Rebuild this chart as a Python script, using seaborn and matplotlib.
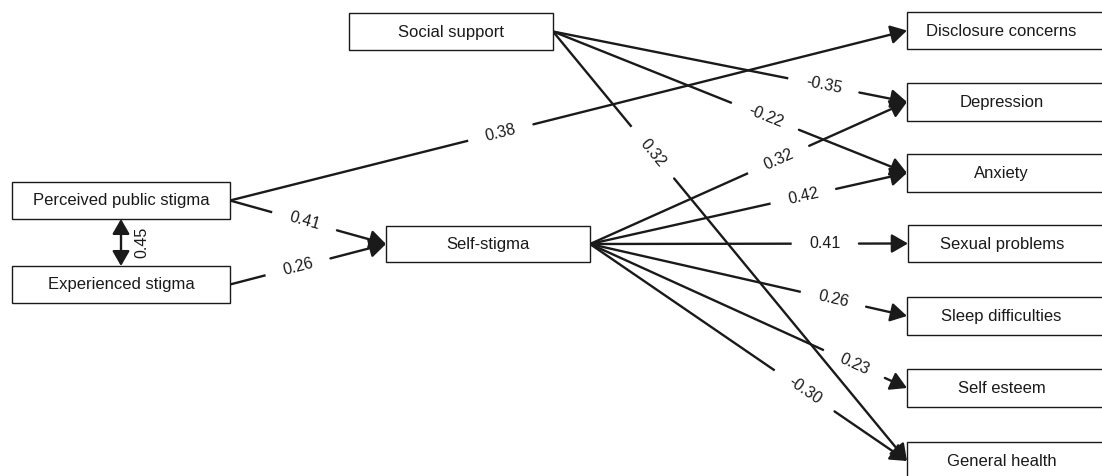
import math
import numpy as np
import pandas as pd
import matplotlib
matplotlib.use("Agg")
import matplotlib.pyplot as plt
from matplotlib.patches import Rectangle, FancyArrowPatch
import seaborn as sns

# ---- data ----
node_names = ["Social support", "Perceived public stigma", "Experienced stigma", "Self-stigma",
              "Disclosure concerns", "Depression", "Anxiety", "Sexual problems",
              "Sleep difficulties", "Self esteem", "General health"]
edge_from = ["Social support", "Social support", "Social support",
             "Perceived public stigma", "Perceived public stigma", "Experienced stigma",
             "Self-stigma", "Self-stigma", "Self-stigma", "Self-stigma", "Self-stigma", "Self-stigma"]
edge_to = ["Depression", "Anxiety", "General health",
           "Disclosure concerns", "Self-stigma", "Self-stigma",
           "Depression", "Anxiety", "Sexual problems", "Sleep difficulties", "Self esteem", "General health"]
edge_coef = ["-0.35", "-0.22", "0.32", "0.38", "0.41", "0.26",
             "0.32", "0.42", "0.41", "0.26", "0.23", "-0.30"]
corr_pair = ["Perceived public stigma", "Experienced stigma"]
corr_coef = "0.45"

# ---- layout (pixel coordinates: left, top, right, bottom) ----
layout = {
    "Social support": (349, 13, 553, 50),
    "Perceived public stigma": (12, 182, 230, 219),
    "Experienced stigma": (12, 266, 230, 303),
    "Self-stigma": (386, 226, 590, 262),
    "Disclosure concerns": (907, 12, 1106, 49),
    "Depression": (907, 83, 1106, 121),
    "Anxiety": (907, 154, 1106, 192),
    "Sexual problems": (908, 225, 1106, 262),
    "Sleep difficulties": (907, 297, 1106, 335),
    "Self esteem": (907, 369, 1106, 407),
    "General health": (907, 442, 1106, 480),
}
label_t = [0.765, 0.60, 0.282, 0.40, 0.478, 0.436, 0.595, 0.673, 0.74, 0.768, 0.834, 0.677]

nodes = pd.DataFrame({"name": node_names})
edges = pd.DataFrame({"src": edge_from, "dst": edge_to, "coef": edge_coef, "t": label_t})

sns.set_theme(style="white")
plt.rcParams["font.family"] = ["Liberation Sans", "DejaVu Sans"]

W, H = 1102, 476
fig = plt.figure(figsize=(W / 100, H / 100), dpi=100)
ax = fig.add_axes([0, 0, 1, 1])
ax.set_xlim(0, W)
ax.set_ylim(H, 0)
ax.axis("off")
renderer = fig.canvas.get_renderer()

ink = "#1a1a1a"
LW = 1.7
HEAD = "-|>,head_length=0.45,head_width=0.26"

for name in nodes["name"]:
    l, t, r, b = layout[name]
    ax.add_patch(Rectangle((l, t), r - l, b - t, fill=True, fc="white", ec=ink, lw=1.0, zorder=3))
    cx = (l + min(r, 1096)) / 2
    ax.text(cx, (t + b) / 2 + 0.5, name, ha="center", va="center", fontsize=12, color=ink, zorder=4)


def right_mid(n):
    l, t, r, b = layout[n]
    return (r, (t + b) / 2)


def left_mid(n):
    l, t, r, b = layout[n]
    return (l, (t + b) / 2)


for _, e in edges.iterrows():
    p0 = right_mid(e["src"])
    p1 = left_mid(e["dst"])
    dx, dy = p1[0] - p0[0], p1[1] - p0[1]
    L = math.hypot(dx, dy)
    ux, uy = dx / L, dy / L
    ang = math.degrees(math.atan2(-dy, dx))
    x = p0[0] + e["t"] * dx
    y = p0[1] + e["t"] * dy
    txt = ax.text(x, y, e["coef"], ha="center", va="center", rotation=0,
                  fontsize=11.5, color=ink, zorder=2.5)
    w = txt.get_window_extent(renderer).width
    txt.set_rotation(ang)
    txt.set_rotation_mode("anchor")
    g = w / 2 + 18
    ax.plot([p0[0], x - g * ux], [p0[1], y - g * uy], color=ink, lw=LW,
            solid_capstyle="butt", zorder=2)
    ax.add_patch(FancyArrowPatch((x + g * ux, y + g * uy), p1, arrowstyle=HEAD, mutation_scale=22,
                                 lw=LW, color=ink, shrinkA=0, shrinkB=0, zorder=2))

# correlation double arrow
a = layout[corr_pair[0]]
b = layout[corr_pair[1]]
ax.add_patch(FancyArrowPatch((121, a[3]), (121, b[1]), arrowstyle="<|-|>,head_length=0.45,head_width=0.26",
                             mutation_scale=20, lw=LW, color=ink, shrinkA=0, shrinkB=0, zorder=2))
ax.text(142, (a[3] + b[1]) / 2, corr_coef, rotation=90, ha="center", va="center",
        fontsize=11.5, color=ink)

fig.savefig("out.png", dpi=100, facecolor="white")
